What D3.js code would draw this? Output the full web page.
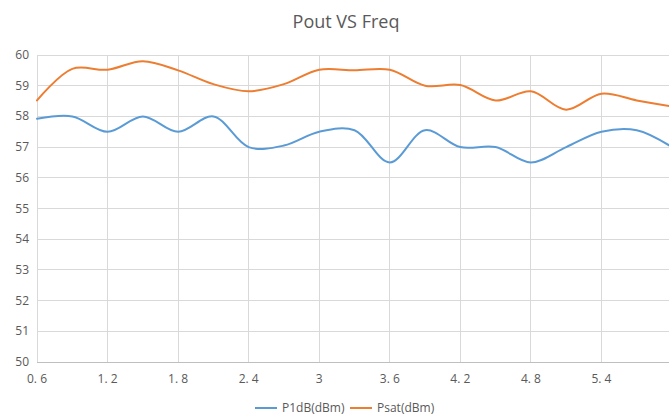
<!DOCTYPE html>
<html><head><meta charset="utf-8">
<script src="https://cdn.jsdelivr.net/npm/d3@7"></script>
<style>body{margin:0;background:#fff;overflow:hidden}svg{display:block}</style>
</head><body>
<svg id="c" width="669" height="416"></svg>
<script>
const freq = [0.6,0.9,1.2,1.5,1.8,2.1,2.4,2.7,3.0,3.3,3.6,3.9,4.2,4.5,4.8,5.1,5.4,5.7,6.0];
const p1dB = [57.92,58.0,57.5,58.0,57.5,58.0,57.0,57.05,57.5,57.55,56.5,57.55,57.0,57.0,56.5,57.0,57.5,57.55,57.0];
const psat = [58.52,59.55,59.52,59.8,59.5,59.05,58.82,59.05,59.52,59.5,59.52,59.0,59.02,58.52,58.82,58.22,58.74,58.52,58.32];
const xTicks = [0.6,1.2,1.8,2.4,3.0,3.6,4.2,4.8,5.4,6.0];
const xTickLabels = ["0. 6","1. 2","1. 8","2. 4","3","3. 6","4. 2","4. 8","5. 4",""];
const yTicks = [50,51,52,53,54,55,56,57,58,59,60];
const seriesNames = ["P1dB(dBm)","Psat(dBm)"];
const colors = ["#5b9bd5","#ed7d31"];

const svg = d3.select("#c");
const x = d3.scaleLinear().domain([0.6,6.0]).range([37,672]);
const y = d3.scaleLinear().domain([50,60]).range([362,55]);
const font = "'Open Sans', 'Noto Sans', sans-serif";

// gridlines
svg.append("g").selectAll("line.h").data(yTicks.slice(1)).join("line")
  .attr("x1",x(0.6)).attr("x2",669).attr("y1",d=>y(d)).attr("y2",d=>y(d))
  .attr("stroke","#d9d9d9").attr("stroke-width",1).attr("shape-rendering","crispEdges");
svg.append("g").selectAll("line.v").data(xTicks).join("line")
  .attr("x1",d=>x(d)).attr("x2",d=>x(d)).attr("y1",y(60)).attr("y2",y(50))
  .attr("stroke","#d9d9d9").attr("stroke-width",1).attr("shape-rendering","crispEdges");
// x axis line
svg.append("line").attr("x1",x(0.6)).attr("x2",669).attr("y1",y(50)).attr("y2",y(50))
  .attr("stroke","#bfbfbf").attr("stroke-width",1).attr("shape-rendering","crispEdges");

// y labels
svg.append("g").selectAll("text").data(yTicks).join("text")
  .attr("x",29).attr("y",d=>y(d)+4).attr("text-anchor","end")
  .attr("font-family",font).attr("font-size",12).attr("fill","#595959").text(d=>d);
// x labels
svg.append("g").selectAll("text").data(xTicks.filter((d,i)=>xTickLabels[i])).join("text")
  .attr("x",d=>x(d)).attr("y",383).attr("text-anchor","middle")
  .attr("font-family",font).attr("font-size",12).attr("fill","#595959")
  .text((d,i)=>xTickLabels[i]);

// lines
const line = d3.line().x(d=>x(d[0])).y(d=>y(d[1])).curve(d3.curveCatmullRom.alpha(0.5));
[p1dB,psat].forEach((s,i)=>{
  svg.append("path").datum(freq.map((f,j)=>[f,s[j]]))
    .attr("d",line).attr("fill","none").attr("stroke",colors[i]).attr("stroke-width",2)
    .attr("stroke-linecap","round");
});

// title
svg.append("text").attr("x",346).attr("y",28).attr("text-anchor","middle")
  .attr("font-family",font).attr("font-size",18).attr("fill","#595959").text("Pout VS Freq");

// legend
const lg = svg.append("g");
const lx = [255,350];
seriesNames.forEach((n,i)=>{
  lg.append("line").attr("x1",lx[i]).attr("x2",lx[i]+22).attr("y1",408).attr("y2",408)
    .attr("stroke",colors[i]).attr("stroke-width",2);
  lg.append("text").attr("x",lx[i]+27).attr("y",412).attr("font-family",font)
    .attr("font-size",12).attr("fill","#595959").text(n);
});
</script>
</body></html>
